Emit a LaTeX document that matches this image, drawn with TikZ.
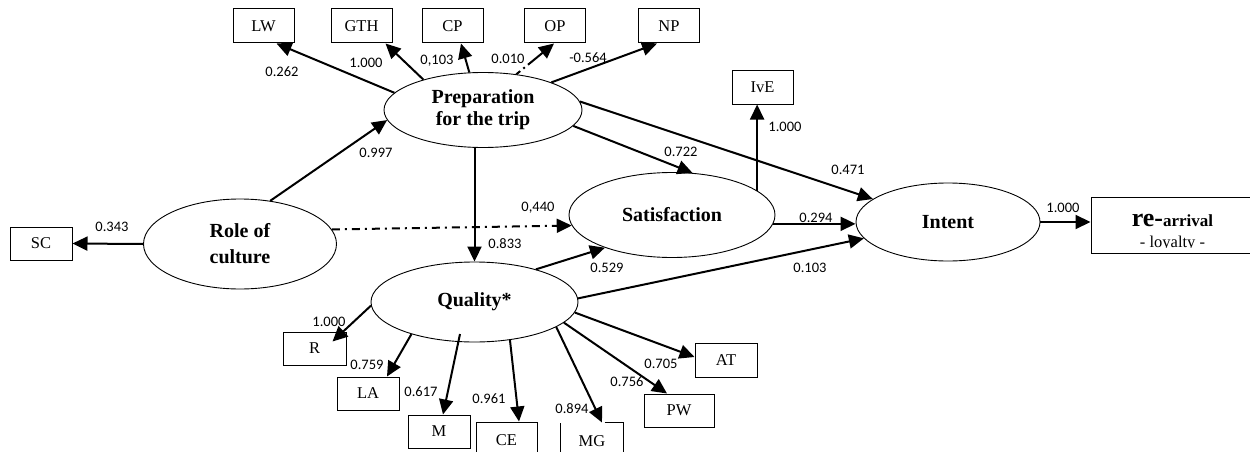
\documentclass[tikz,border=0pt]{standalone}
\usepackage{fontspec}
\setmainfont{Liberation Serif}
\newfontfamily\numfont{Carlito}
\usetikzlibrary{arrows.meta,calc,shapes.geometric}
\begin{document}
\begin{tikzpicture}[x=1pt,y=-1pt,
  lat/.style={ellipse, draw, line width=0.9pt, inner sep=0pt, align=center,
    font=\fontsize{20}{22}\selectfont\bfseries},
  obs/.style={rectangle, draw, line width=1pt, minimum width=61pt, minimum height=34pt,
    inner sep=0pt, font=\fontsize{16.5}{18}\selectfont},
  num/.style={font=\numfont\fontsize{14.5}{16}\selectfont, inner sep=0pt},
  arr/.style={line width=2pt, -{Triangle[length=15pt,width=14pt]}},
  dashdot/.style={dash pattern=on 8pt off 5pt on 2pt off 5pt},
]
\clip (0,0) rectangle (1250,452);

% latent variables
\node[lat, minimum width=198pt, minimum height=75pt] (prep) at (483,110) {Preparation\\for the trip};
\node[lat, minimum width=193pt, minimum height=90pt, font=\fontsize{20}{26}\selectfont\bfseries] (role) at (240,244) {Role of\\culture};
\node[lat, minimum width=206pt, minimum height=85pt] (sat) at (672,215) {Satisfaction};
\node[lat, minimum width=207pt, minimum height=80pt] (qual) at (474.5,302) {Quality*};
\node[lat, minimum width=184pt, minimum height=78pt] (intent) at (948,222) {Intent};

% indicators
\node[obs] (LW) at (263.5,26) {LW};
\node[obs] (GTH) at (361.5,26) {GTH};
\node[obs] (CP) at (452.5,26) {CP};
\node[obs] (OP) at (555,26) {OP};
\node[obs] (NP) at (669,26) {NP};
\node[obs, minimum width=62pt, minimum height=33pt] (SC) at (41,243.5) {SC};
\node[obs, minimum height=33pt] (IvE) at (762.5,87.5) {IvE};
\node[obs, minimum width=63pt, minimum height=33pt] (R) at (314.5,348.5) {R};
\node[obs, minimum width=62pt, minimum height=33pt] (LA) at (368,393.5) {LA};
\node[obs, minimum width=62pt, minimum height=33pt] (M) at (439,431.5) {M};
\node[obs, minimum width=61pt, minimum height=36pt] (CE) at (506.5,440) {CE};
\node[obs, draw=none, minimum width=62pt, minimum height=36pt] (MG) at (592,441) {MG};
\draw[line width=1pt] (MG.south west) -- (MG.north west);
\draw[line width=1pt] ($(MG.north east)+(-19,0)$) -- (MG.north east) -- (MG.south east);
\node[obs, minimum width=70pt, minimum height=33pt] (PW) at (679,410.5) {PW};
\node[obs, minimum width=62pt, minimum height=34pt] (AT) at (726,360) {AT};

% re-arrival box
\node[draw, line width=1pt, minimum width=161pt, minimum height=56pt, inner sep=0pt] (re) at (1171.5,225) {};
\node[anchor=base, inner sep=0pt] (reA) at (1172.5,226)
  {\fontsize{26}{28}\selectfont\bfseries re-\fontsize{17}{20}\selectfont arrival};
\begin{scope}
  \clip ($(re.north west)+(0,0)$) rectangle (1250,247);
  \node[anchor=base, inner sep=0pt, font=\fontsize{16.5}{18}\selectfont] (reB) at (1172.5,247.5) {- loyalty -};
\end{scope}

% structural paths
\draw[arr] (role.west) -- (SC.east);
\draw[arr] (role.55.7) -- (prep.186);
\draw[arr, dashdot] (role.9.9) -- (sat.186.6);
\draw[arr] (prep.south -| qual.north) -- (qual.north);
\draw[arr] (prep.-10.4) -- (sat.64.5);
\draw[arr] (prep.5.8) -- (intent.163.9);
\draw[arr] (sat.16) -- (sat.16 |- IvE.south);
\draw[arr] (sat.-5.7) -- (sat.-5.7 -| intent.west);
\draw[arr] (qual.28.5) -- (sat.206.6);
\draw[arr] (qual.2) -- (intent.191.2);
\draw[arr] (intent.east) -- (intent.east -| re.west);

% preparation indicators
\draw[arr] (prep.169) -- ($(LW.south)+(13,0)$);
\draw[arr] (prep.153.4) -- ($(GTH.south)+(24,0)$);
\draw[arr] (prep.110) -- ($(CP.south)+(8.5,0)$);
\draw[arr, dash pattern=on 5pt off 4pt on 2pt off 4pt on 40pt off 0pt] (prep.47) -- ($(OP.south)+(-1,0)$);
\draw[arr] (prep.22.8) -- ($(NP.south)+(-12,0)$);

% quality indicators
\draw[arr] (qual.182.8) -- ($(R.north east)+(-14,10)$);
\draw[arr] (qual.207) -- ($(LA.north)+(19,0)$);
\draw[arr] ($(qual.center)+(-14.5,32)$) -- ($(M.north)+(4,0)$);
\draw[arr] (qual.313.8) -- ($(CE.north)+(12.5,0)$);
\draw[arr] (qual.-17) -- ($(MG.north)+(10,0)$);
\draw[arr] (qual.-13.3) -- ($(PW.north)+(-12,0)$);
\draw[arr] (qual.-6.4) -- ($(AT.west)+(0,-3)$);

% coefficients
\node[num] (nLW) at (282,72) {0.262};
\node[num] (nGTH) at (366,63) {1.000};
\node[num] (nCP) at (437,61) {0,103};
\node[num] (nOP) at (508,59) {0.010};
\node[num] (nNP) at (588,58) {-0.564};
\node[num] (nRP) at (376,153) {0.997};
\node[num] (nSC) at (112,227) {0.343};
\node[num] (nRS) at (538,208) {0,440};
\node[num] (nPQ) at (505,244) {0.833};
\node[num] (nPS) at (681,152) {0.722};
\node[num] (nQS) at (607,268) {0.529};
\node[num] (nIvE) at (785,127) {1.000};
\node[num] (nPI) at (848,170) {0.471};
\node[num] (nSI) at (816,218) {0.294};
\node[num] (nQI) at (810,268) {0.103};
\node[num] (nRe) at (1063,208) {1.000};
\node[num] (nR) at (329,322) {1.000};
\node[num] (nLA) at (367,365) {0.759};
\node[num] (nM) at (421,392) {0.617};
\node[num] (nCE) at (489,399) {0.961};
\node[num] (nMG) at (572,409) {0.894};
\node[num] (nPW) at (627,382) {0.756};
\node[num] (nAT) at (661,364) {0.705};
\end{tikzpicture}
\end{document}
